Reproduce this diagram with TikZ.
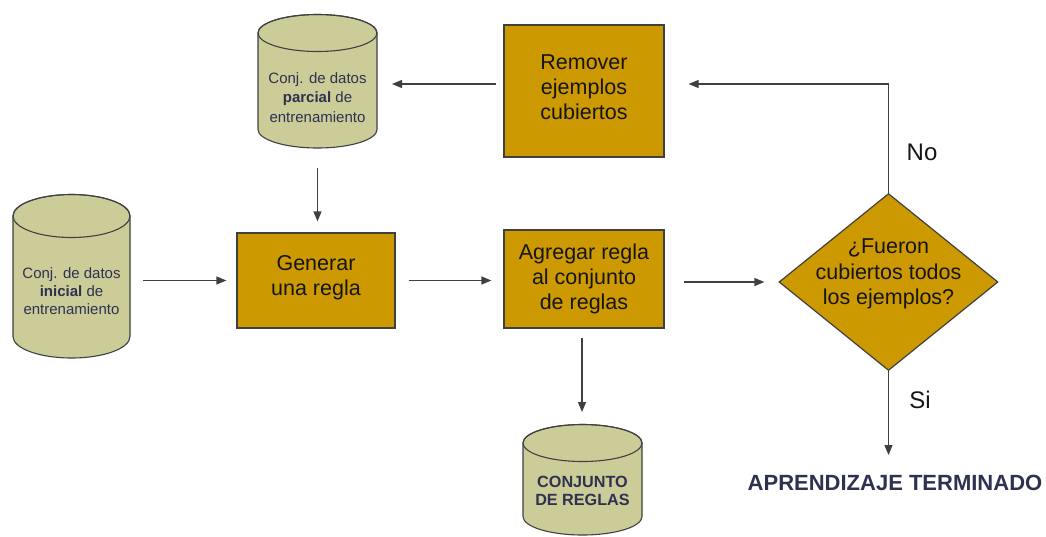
\documentclass[tikz,border=0pt]{standalone}
\usepackage{fontspec}
\setmainfont{Liberation Sans}
\usetikzlibrary{shapes.geometric,arrows.meta,backgrounds}
\definecolor{gold}{HTML}{CC9900}
\definecolor{khaki}{HTML}{CCCC99}
\definecolor{edge}{HTML}{404040}
\definecolor{navy}{HTML}{2E3150}
\definecolor{ink}{HTML}{151515}

% database drum behind a node: #1 node name, #2 x radius, #3 y radius (pt)
\newcommand\drum[3]{%
  \begin{scope}[on background layer]
    \draw[fill=khaki, draw=edge, line width=1.1pt]
      (#1.north west) -- ([yshift=#3pt]#1.south west)
      arc[start angle=180, end angle=360, x radius=#2pt, y radius=#3pt]
      -- (#1.north east)
      arc[start angle=0, end angle=180, x radius=#2pt, y radius=#3pt] -- cycle;
    \draw[draw=edge, line width=1.1pt] (#1.north) ellipse[x radius=#2pt, y radius=#3pt];
  \end{scope}}

\begin{document}
\begin{tikzpicture}[x=1pt, y=-1pt,
  box/.style={draw=edge, fill=gold, line width=1.2pt, inner sep=0pt},
  boxtext/.style={inner sep=0pt, align=center, text=ink, font=\fontsize{21.5}{25}\selectfont},
  drumbody/.style={inner sep=0pt, outer sep=0pt},
  drumtext/.style={inner sep=0pt, align=center, text=navy},
  arr/.style={draw=edge, line width=1.2pt, -{Triangle[length=10pt, width=8pt]}},
  answer/.style={text=ink, font=\fontsize{24}{28}\selectfont, inner sep=0pt}]
\useasboundingbox (0,0) rectangle (1046,536);

% process boxes
\node[box, minimum width=158pt, minimum height=95pt] (gen) at (316,280.5) {};
\node[boxtext] (gentxt) at ([yshift=3pt]gen.center) {Generar\\una regla};
\node[box, minimum width=160pt, minimum height=98pt] (agr) at (584,279) {};
\node[boxtext] (agrtxt) at (agr.center) {Agregar regla\\al conjunto\\de reglas};
\node[box, minimum width=160pt, minimum height=132pt] (rem) at (584,91) {};
\node[boxtext] (remtxt) at ([yshift=4pt]rem.center) {Remover\\ejemplos\\cubiertos};

% decision
\node[diamond, draw=edge, fill=gold, line width=1.2pt, inner sep=0pt,
  minimum width=219pt, minimum height=177pt] (dia) at (888.5,282) {};
\node[text=ink, align=center, inner sep=0pt, font=\fontsize{21.5}{25.5}\selectfont]
  (diatxt) at ([yshift=8pt]dia.center) {¿Fueron\\cubiertos todos\\los ejemplos?};

% data stores
\node[drumbody, minimum width=119pt, minimum height=115pt] (parcial) at (317.5,90.5) {};
\drum{parcial}{59.5}{18.5}
\node[drumtext, font=\fontsize{15}{19.5}\selectfont] (parcialtxt) at ([yshift=-7pt]parcial.center)
  {Conj. de datos\\\textbf{parcial} de\\entrenamiento};
\node[drumbody, minimum width=117pt, minimum height=142pt] (inicial) at (71.5,287) {};
\drum{inicial}{58.5}{21.5}
\node[drumtext, font=\fontsize{15}{18}\selectfont] (inicialtxt) at ([yshift=-4pt]inicial.center)
  {Conj. de datos\\\textbf{inicial} de\\entrenamiento};
\node[drumbody, minimum width=119pt, minimum height=92pt] (reglas) at (582.5,489) {};
\drum{reglas}{59.5}{18.5}
\node[drumtext, font=\bfseries\fontsize{16.2}{18.5}\selectfont] (reglastxt) at ([yshift=-2pt]reglas.center)
  {CONJUNTO\\DE REGLAS};

% end label and answers
\node[text=navy, inner sep=0pt, font=\bfseries\fontsize{22}{26}\selectfont] (fin) at (895,483)
  {APRENDIZAJE TERMINADO};
\node[answer] (no) at (922,152) {No};
\node[answer] (si) at (920,400) {Si};

% connectors
\coordinate (remout) at ([yshift=7pt]rem.west);
\coordinate (agrout) at ([xshift=-2pt]agr.south);
\draw[arr, shorten <=7pt, shorten >=15pt] (remout) -- (remout -| parcial.east);
\draw[arr, shorten <=20pt, shorten >=11pt] (parcial.south) -- (parcial.south |- gen.north);
\draw[arr, shorten <=13pt, shorten >=10pt] (gen.west -| inicial.east) -- (gen.west);
\draw[arr, shorten <=13pt, shorten >=12pt] (gen.east) -- (gen.east -| agr.west);
\draw[arr, shorten <=19pt, shorten >=14pt] (dia.west -| agr.east) -- (dia.west);
\draw[arr, shorten <=9pt, shorten >=31pt] (agrout) -- (agrout |- reglas.north);
\draw[arr, shorten >=24pt] (dia.north) |- (remout -| rem.east);
\draw[arr, shorten >=20pt] (dia.south) -- (dia.south |- fin.north);
\end{tikzpicture}
\end{document}
